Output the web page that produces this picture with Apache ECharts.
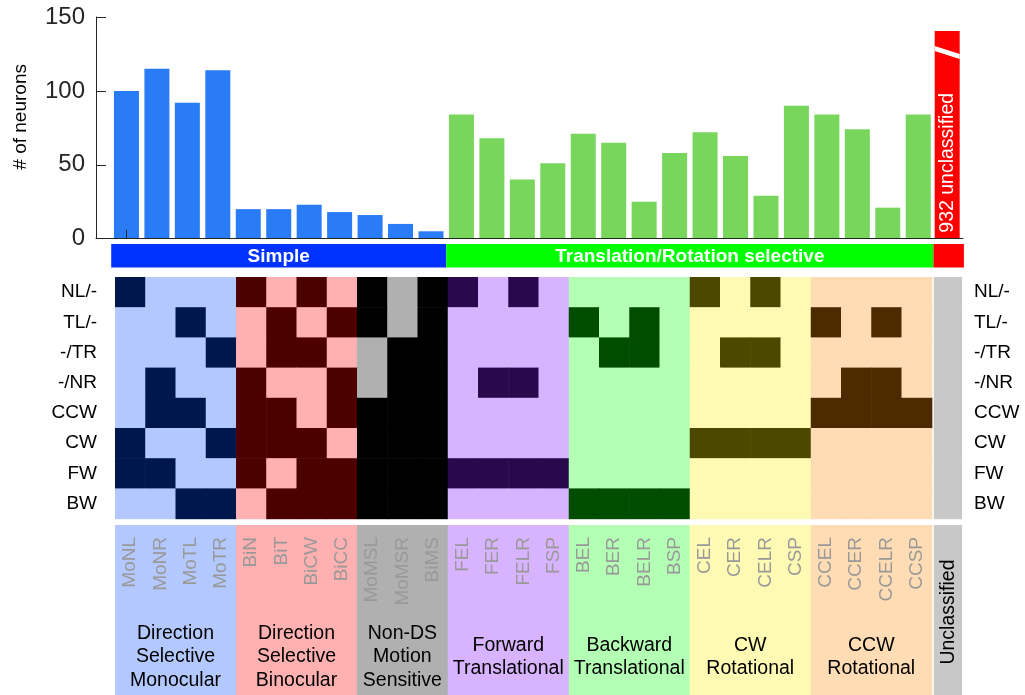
<!DOCTYPE html>
<html>
<head>
<meta charset="utf-8">
<style>
  html, body { margin: 0; padding: 0; background: #ffffff; }
  #chart { width: 1025px; height: 695px; }
</style>
<script src="https://cdn.jsdelivr.net/npm/echarts@6/dist/echarts.min.js"></script>
</head>
<body>
<div id="chart"></div>
<script>
// ---- data ----
const cellTypes = ['MoNL', 'MoNR', 'MoTL', 'MoTR', 'BiN', 'BiT', 'BiCW', 'BiCC',
  'MoMSL', 'MoMSR', 'BiMS', 'FEL', 'FER', 'FELR', 'FSP', 'BEL', 'BER', 'BELR', 'BSP',
  'CEL', 'CER', 'CELR', 'CSP', 'CCEL', 'CCER', 'CCELR', 'CCSP'];
const neuronCounts = [100, 115, 92, 114, 20, 20, 23, 18, 16, 10, 5,
  84, 68, 40, 51, 71, 65, 25, 58, 72, 56, 29, 90, 84, 74, 21, 84];
const unclassifiedCount = 932;
const unclassifiedLabel = 'Unclassified';

const groupLabels = ['Direction\nSelective\nMonocular', 'Direction\nSelective\nBinocular',
  'Non-DS\nMotion\nSensitive', 'Forward\nTranslational', 'Backward\nTranslational',
  'CW\nRotational', 'CCW\nRotational'];
const groupSizes = [4, 4, 3, 4, 4, 4, 4];

const classLabels = ['Simple', 'Translation/Rotation selective'];
const classGroupCounts = [3, 4];

const motionRows = ['NL/-', 'TL/-', '-/TR', '-/NR', 'CCW', 'CW', 'FW', 'BW'];
// 1 = responds to the stimulus, one entry per cell type (same order as cellTypes)
const rowNL = [1,0,0,0, 1,0,1,0, 1,0,1, 1,0,1,0, 0,0,0,0, 1,0,1,0, 0,0,0,0];
const rowTL = [0,0,1,0, 0,1,0,1, 1,0,1, 0,0,0,0, 1,0,1,0, 0,0,0,0, 1,0,1,0];
const rowTR = [0,0,0,1, 0,1,1,0, 0,1,1, 0,0,0,0, 0,1,1,0, 0,1,1,0, 0,0,0,0];
const rowNR = [0,1,0,0, 1,0,0,1, 0,1,1, 0,1,1,0, 0,0,0,0, 0,0,0,0, 0,1,1,0];
const rowCCW = [0,1,1,0, 1,1,0,1, 1,1,1, 0,0,0,0, 0,0,0,0, 0,0,0,0, 1,1,1,1];
const rowCW = [1,0,0,1, 1,1,1,0, 1,1,1, 0,0,0,0, 0,0,0,0, 1,1,1,1, 0,0,0,0];
const rowFW = [1,1,0,0, 1,0,1,1, 1,1,1, 1,1,1,1, 0,0,0,0, 0,0,0,0, 0,0,0,0];
const rowBW = [0,0,1,1, 0,1,1,1, 1,1,1, 0,0,0,0, 1,1,1,1, 0,0,0,0, 0,0,0,0];
const responseRows = [rowNL, rowTL, rowTR, rowNR, rowCCW, rowCW, rowFW, rowBW];

const yTickValues = [0, 50, 100, 150];

// ---- styles ----
const FONT = 'Liberation Sans, Arial, sans-serif';
const AXIS_COLOR = '#262626';
const groupLight = ['#b3c8ff', '#ffb0b0', '#b0b0b0', '#d8b3ff', '#b3ffb3', '#fffab3', '#ffdcb3'];
const groupDark = ['#00174d', '#4d0000', '#000000', '#2a084d', '#004d00', '#4d4800', '#4d2a00'];
const classBandColors = ['#0033ff', '#00ff00'];
const classBarColors = ['#2a7bf6', '#78d65c'];
const unclassifiedColor = '#ff0000';
const unclassifiedGray = '#c8c8c8';

// ---- derived lookups ----
const groupOfColumn = [];
const groupStart = [];
groupSizes.forEach((n, g) => {
  groupStart.push(groupOfColumn.length);
  for (let i = 0; i < n; i++) groupOfColumn.push(g);
});
const nCols = cellTypes.length;          // 27 classified types
const heatCategories = cellTypes.concat([unclassifiedLabel]);

// class of each column (Simple vs Translation/Rotation)
const classOfColumn = groupOfColumn.map(g => {
  let acc = 0;
  for (let c = 0; c < classGroupCounts.length; c++) {
    acc += classGroupCounts[c];
    if (g < acc) return c;
  }
  return classGroupCounts.length - 1;
});

const barSeries = classLabels.map((name, c) => ({
  name,
  type: 'bar',
  xAxisIndex: 0,
  yAxisIndex: 0,
  barWidth: 25,
  barGap: '-100%',
  itemStyle: { color: classBarColors[c] },
  data: neuronCounts.map((v, i) => classOfColumn[i] === c ? [i + 1, v] : null).filter(Boolean),
  animation: false
}));

// class band segments (x in bar-axis units)
const bandSegments = [];
{
  let start = 0;
  classLabels.forEach((name, c) => {
    const count = classOfColumn.filter(k => k === c).length;
    bandSegments.push({ from: start + 0.5, to: start + count + 0.5, text: name, color: classBandColors[c] });
    start += count;
  });
  bandSegments.push({ from: start + 0.5, to: start + 1.5, text: '', color: unclassifiedColor });
}

// heatmap cells
const heatData = [];
responseRows.forEach((row, r) => {
  row.forEach((on, col) => heatData.push([col, r, on]));
  heatData.push([nCols, r, -1]);
});

const chart = echarts.init(document.getElementById('chart'), null, { renderer: 'canvas' });

const option = {
  animation: false,
  backgroundColor: '#ffffff',
  textStyle: { fontFamily: FONT },
  grid: [
    { left: 96, top: 17, width: 867, height: 221.7 },          // bar chart
    { left: 96, top: 244, width: 867, height: 23.5 },          // class band
    { left: 115, top: 277, width: 847, height: 241.6 },        // response matrix
    { left: 115, top: 525, width: 847, height: 170 }           // type labels
  ],
  xAxis: [
    {
      gridIndex: 0, type: 'value', min: 0, max: 28.47, z: 5,
      axisLine: { show: true, onZero: false, lineStyle: { color: AXIS_COLOR, width: 1 } },
      axisTick: { show: true, inside: true, length: 9, customValues: [1], lineStyle: { color: AXIS_COLOR } },
      axisLabel: { show: false },
      splitLine: { show: false }
    },
    {
      gridIndex: 1, type: 'value', min: 0, max: 28.47, show: false
    },
    {
      gridIndex: 2, type: 'category', data: heatCategories, show: false
    },
    {
      gridIndex: 3, type: 'category', data: heatCategories, show: false
    }
  ],
  yAxis: [
    {
      gridIndex: 0, type: 'value', min: 0, max: 150, interval: 50, z: 5,
      name: '# of neurons', nameLocation: 'middle', nameRotate: 90, nameGap: 66,
      nameTextStyle: { fontSize: 19, color: '#000', fontFamily: FONT, padding: [0, 0, 0, 22] },
      axisLine: { show: true, lineStyle: { color: AXIS_COLOR, width: 1 } },
      axisTick: { show: true, inside: true, length: 10, lineStyle: { color: AXIS_COLOR } },
      axisLabel: { fontSize: 24, color: AXIS_COLOR, margin: 11, fontFamily: FONT,
        formatter: v => yTickValues.includes(v) ? String(v) : '' },
      splitLine: { show: false }
    },
    {
      // scale for the clipped unclassified bar
      gridIndex: 0, type: 'value', min: 0, max: 995, show: false
    },
    { gridIndex: 1, type: 'value', min: 0, max: 1, show: false },
    {
      gridIndex: 2, type: 'category', data: motionRows, inverse: true, position: 'left',
      axisLine: { show: false }, axisTick: { show: false },
      axisLabel: { fontSize: 19, color: '#000', margin: 18, fontFamily: FONT }
    },
    {
      gridIndex: 2, type: 'category', data: motionRows, inverse: true, position: 'right',
      axisLine: { show: false }, axisTick: { show: false },
      axisLabel: { fontSize: 19, color: '#000', margin: 12, fontFamily: FONT }
    },
    { gridIndex: 3, type: 'value', min: 0, max: 1, show: false }
  ],
  series: [
    ...barSeries,
    {
      // unclassified neurons: bar broken at the top of the axis
      type: 'custom',
      xAxisIndex: 0,
      yAxisIndex: 1,
      data: [[nCols + 1, unclassifiedCount]],
      renderItem(params, api) {
        const base = api.coord([api.value(0), 0]);
        const top = api.coord([api.value(0), api.value(1)]);
        const w = 25;
        const x0 = base[0] - w / 2 - 1.5, x1 = x0 + w;
        return {
          type: 'group',
          children: [
            { type: 'rect', shape: { x: x0, y: top[1], width: w, height: base[1] - top[1] },
              style: { fill: unclassifiedColor } },
            { type: 'polygon', shape: { points: [[x0, top[1] + 15], [x1, top[1] + 23], [x1, top[1] + 28], [x0, top[1] + 20]] },
              style: { fill: '#ffffff' } },
            { type: 'text', x: (x0 + x1) / 2, y: base[1] - 6, rotation: Math.PI / 2,
              style: { text: unclassifiedCount + ' unclassified', fill: '#ffffff', font: '19.5px ' + FONT,
                align: 'left', verticalAlign: 'middle' } }
          ]
        };
      }
    },
    {
      // class band
      type: 'custom',
      xAxisIndex: 1,
      yAxisIndex: 2,
      data: bandSegments.map(s => [s.from, s.to]),
      encode: { x: [0, 1] },
      renderItem(params, api) {
        const seg = bandSegments[params.dataIndex];
        const a = api.coord([seg.from, 1]);
        const b = api.coord([seg.to, 0]);
        return {
          type: 'group',
          children: [
            { type: 'rect', shape: { x: a[0], y: a[1], width: b[0] - a[0], height: b[1] - a[1] },
              style: { fill: seg.color } },
            { type: 'text', x: (a[0] + b[0]) / 2, y: (a[1] + b[1]) / 2 + 1,
              style: { text: seg.text, fill: '#ffffff', font: 'bold 19px ' + FONT,
                align: 'center', verticalAlign: 'middle' } }
          ]
        };
      }
    },
    {
      // response matrix
      type: 'custom',
      xAxisIndex: 2,
      yAxisIndex: 3,
      data: heatData,
      renderItem(params, api) {
        const col = api.value(0), row = api.value(1), on = api.value(2);
        const p = api.coord([col, row]);
        const s = api.size([1, 1]);
        let x = p[0] - s[0] / 2, w = s[0] + 0.6;
        let fill;
        if (col === nCols) {
          fill = unclassifiedGray; x += 2; w = s[0] - 2;
        } else {
          const g = groupOfColumn[col];
          fill = on ? groupDark[g] : groupLight[g];
        }
        return { type: 'rect', shape: { x, y: p[1] - s[1] / 2, width: w, height: s[1] + 0.6 },
          style: { fill } };
      }
    },
    {
      // type panels with column and group names
      type: 'custom',
      xAxisIndex: 3,
      yAxisIndex: 5,
      data: groupSizes.map((n, g) => [groupStart[g], n]).concat([[nCols, 1]]),
      renderItem(params, api) {
        const g = params.dataIndex;
        const start = api.value(0), n = api.value(1);
        const a = api.coord([start, 1]);
        const b = api.coord([start + n - 1, 0]);
        const cw = api.size([1, 0])[0];
        const left = a[0] - cw / 2, right = b[0] + cw / 2;
        const top = a[1], bottom = b[1];
        const children = [];
        if (g >= groupSizes.length) {
          children.push({ type: 'rect', shape: { x: left + 2, y: top, width: right - left - 2, height: bottom - top },
            style: { fill: unclassifiedGray } });
          children.push({ type: 'text', x: (left + right) / 2 + 2, y: top + 87, rotation: Math.PI / 2,
            style: { text: unclassifiedLabel, fill: '#000', font: '19.5px ' + FONT,
              align: 'center', verticalAlign: 'middle' } });
          return { type: 'group', children };
        }
        children.push({ type: 'rect', shape: { x: left, y: top, width: right - left + 0.6, height: bottom - top },
          style: { fill: groupLight[g] } });
        for (let i = 0; i < n; i++) {
          const cx = api.coord([start + i, 1])[0];
          children.push({ type: 'text', x: cx, y: top + 12, rotation: Math.PI / 2,
            style: { text: cellTypes[start + i], fill: '#999999', font: '19px ' + FONT,
              align: 'right', verticalAlign: 'middle' } });
        }
        children.push({ type: 'text', x: (left + right) / 2, y: top + 132,
          style: { text: groupLabels[g], fill: '#000', font: '19.5px ' + FONT,
            align: 'center', verticalAlign: 'middle', lineHeight: 23.5 } });
        return { type: 'group', children };
      }
    }
  ]
};

chart.setOption(option);
</script>
</body>
</html>
